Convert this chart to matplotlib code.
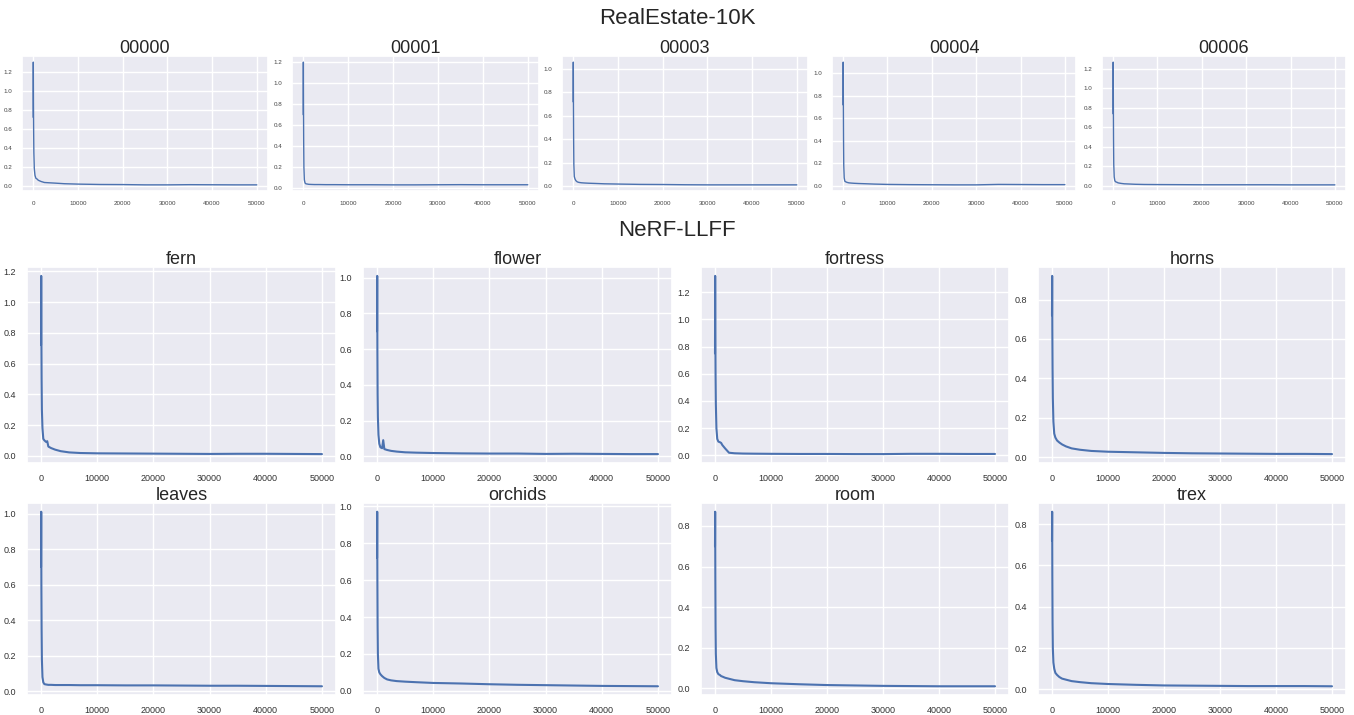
import matplotlib
matplotlib.use("Agg")
import matplotlib.pyplot as plt
import seaborn as sns

sns.set_theme(style="darkgrid")
plt.rcParams['font.family'] = ['Liberation Sans', 'DejaVu Sans']

# training steps (shared by every curve)
steps = [0, 30, 60, 100, 150, 250, 400, 600, 900, 1100, 1300, 1800, 2500,
         3500, 5000, 7000, 10000, 15000, 20000, 25000, 30000, 35000, 40000,
         45000, 50000]

# RealEstate-10K scenes
re_names = ["00000", "00001", "00003", "00004", "00006"]
loss_00000 = [0.72, 1.30, 0.90, 0.60, 0.35, 0.18, 0.11, 0.08, 0.07, 0.06, 0.055, 0.045,
              0.035, 0.032, 0.028, 0.022, 0.018, 0.014, 0.013, 0.010, 0.010, 0.012,
              0.011, 0.010, 0.010]
loss_00001 = [0.70, 1.20, 0.80, 0.45, 0.20, 0.08, 0.05, 0.042, 0.04, 0.038, 0.037, 0.036,
              0.035, 0.035, 0.034, 0.034, 0.033, 0.033, 0.032, 0.032, 0.033, 0.034,
              0.033, 0.033, 0.033]
loss_00003 = [0.72, 1.06, 0.70, 0.40, 0.18, 0.08, 0.06, 0.045, 0.035, 0.032, 0.03, 0.027,
              0.025, 0.023, 0.021, 0.018, 0.016, 0.013, 0.012, 0.010, 0.009, 0.009,
              0.009, 0.009, 0.009]
loss_00004 = [0.72, 1.10, 0.75, 0.42, 0.18, 0.07, 0.04, 0.035, 0.03, 0.028, 0.026, 0.024,
              0.022, 0.02, 0.018, 0.015, 0.012, 0.010, 0.009, 0.008, 0.008, 0.012,
              0.011, 0.010, 0.010]
loss_00006 = [0.74, 1.27, 0.85, 0.48, 0.22, 0.09, 0.05, 0.04, 0.035, 0.03, 0.028, 0.024,
              0.02, 0.018, 0.015, 0.013, 0.012, 0.011, 0.010, 0.010, 0.010, 0.010,
              0.009, 0.009, 0.009]
re_losses = [loss_00000, loss_00001, loss_00003, loss_00004, loss_00006]

# NeRF-LLFF scenes
llff_names = ["fern", "flower", "fortress", "horns", "leaves", "orchids", "room", "trex"]
loss_fern = [0.72, 1.17, 0.80, 0.50, 0.30, 0.18, 0.11, 0.10, 0.09, 0.095, 0.06, 0.05,
             0.04, 0.03, 0.022, 0.018, 0.016, 0.015, 0.014, 0.013, 0.012, 0.013,
             0.013, 0.012, 0.011]
loss_flower = [0.70, 1.01, 0.60, 0.35, 0.22, 0.12, 0.07, 0.05, 0.045, 0.09, 0.04, 0.035,
               0.03, 0.026, 0.022, 0.02, 0.018, 0.016, 0.015, 0.015, 0.013, 0.014,
               0.013, 0.012, 0.012]
loss_fortress = [0.75, 1.32, 0.92, 0.60, 0.38, 0.20, 0.12, 0.10, 0.095, 0.09, 0.075, 0.05,
                 0.018, 0.014, 0.012, 0.011, 0.010, 0.009, 0.009, 0.008, 0.008, 0.010,
                 0.010, 0.009, 0.009]
loss_horns = [0.72, 0.92, 0.65, 0.45, 0.30, 0.18, 0.12, 0.10, 0.085, 0.08, 0.075, 0.065,
              0.055, 0.045, 0.038, 0.032, 0.028, 0.025, 0.022, 0.02, 0.019, 0.018,
              0.017, 0.017, 0.016]
loss_leaves = [0.70, 1.01, 0.60, 0.35, 0.18, 0.08, 0.05, 0.04, 0.038, 0.037, 0.036, 0.036,
               0.035, 0.035, 0.035, 0.034, 0.034, 0.033, 0.033, 0.032, 0.031, 0.031,
               0.030, 0.029, 0.028]
loss_orchids = [0.72, 0.97, 0.60, 0.35, 0.20, 0.12, 0.10, 0.09, 0.08, 0.075, 0.07, 0.062,
                0.057, 0.053, 0.05, 0.047, 0.043, 0.04, 0.036, 0.033, 0.031, 0.029,
                0.027, 0.026, 0.025]
loss_room = [0.70, 0.87, 0.55, 0.30, 0.17, 0.10, 0.08, 0.07, 0.065, 0.06, 0.058, 0.052,
             0.047, 0.04, 0.035, 0.03, 0.025, 0.02, 0.016, 0.014, 0.012, 0.011,
             0.010, 0.010, 0.010]
loss_trex = [0.72, 0.86, 0.55, 0.32, 0.20, 0.13, 0.10, 0.08, 0.07, 0.065, 0.06, 0.052,
             0.047, 0.04, 0.035, 0.03, 0.026, 0.022, 0.019, 0.018, 0.017, 0.016,
             0.016, 0.016, 0.015]
llff_losses = [loss_fern, loss_flower, loss_fortress, loss_horns,
               loss_leaves, loss_orchids, loss_room, loss_trex]

W, H = 1354, 715
fig = plt.figure(figsize=(W / 100, H / 100), dpi=100)


def add_ax(x0, y0, x1, y1):
    return fig.add_axes([x0 / W, 1 - y1 / H, (x1 - x0) / W, (y1 - y0) / H])


color = "#4c72b0"

# top block
fig.text(677 / W, 1 - 18 / H, "RealEstate-10K", ha="center", va="center", fontsize=16)
top_x = [(22, 268), (292, 539), (562, 808), (832, 1076), (1102, 1346)]
for (x0, x1), name, loss in zip(top_x, re_names, re_losses):
    ax = add_ax(x0, 56, x1, 191)
    ax.plot(steps, loss, color=color, lw=1.0)
    ax.set_title(name, fontsize=13, pad=2)
    ax.set_xticks([0, 10000, 20000, 30000, 40000, 50000])
    ax.tick_params(labelsize=4.5, pad=1, labelcolor="#444444")

# bottom block
fig.text(677 / W, 1 - 230 / H, "NeRF-LLFF", ha="center", va="center", fontsize=16)
bot_x = [(27, 336), (363, 672), (701, 1009), (1038, 1346)]
bot_y = [(267, 463), (503, 695)]
for i, (name, loss) in enumerate(zip(llff_names, llff_losses)):
    x0, x1 = bot_x[i % 4]
    y0, y1 = bot_y[i // 4]
    ax = add_ax(x0, y0, x1, y1)
    ax.plot(steps, loss, color=color, lw=1.5)
    ax.set_title(name, fontsize=13, pad=2)
    ax.set_xticks([0, 10000, 20000, 30000, 40000, 50000])
    ax.tick_params(labelsize=6.5, pad=2, labelcolor="#333333")

fig.savefig("out.png", dpi=100)
